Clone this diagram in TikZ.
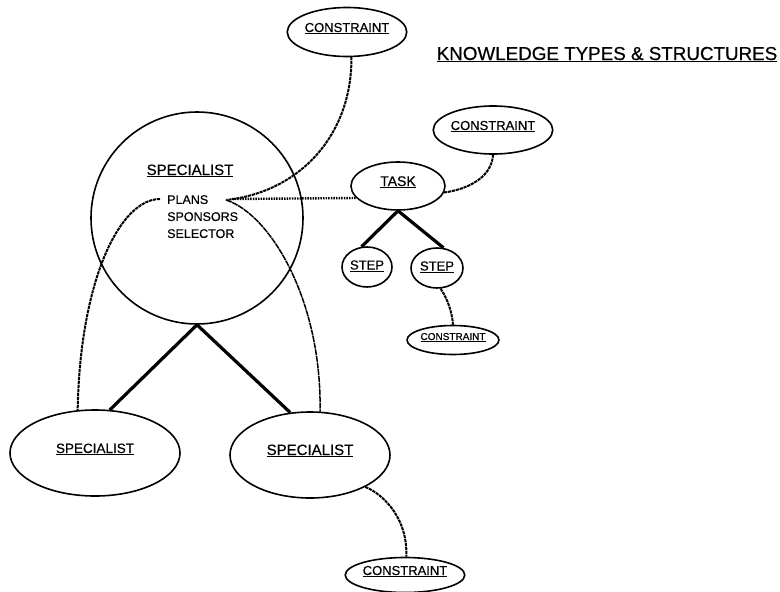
\documentclass[tikz,border=0pt]{standalone}
\usepackage{fontspec}
\setmainfont{Liberation Sans}[FakeBold=0.5]
\usetikzlibrary{shapes.geometric}
\newcommand\ulbl[1]{\underline{\smash{#1}}}
\newcommand\fs[1]{\fontsize{#1}{#1}\selectfont}
\begin{document}
\begin{tikzpicture}[x=1pt,y=-1pt,
  oval/.style={draw, ellipse, line width=1.6pt, inner sep=0pt, text depth=0pt},
  tree/.style={line width=3.2pt},
  link/.style={line width=2pt, dash pattern=on 3.2pt off 0.8pt},
  finelink/.style={line width=1.5pt, dash pattern=on 6pt off 0.7pt},
  dots/.style={line width=2.4pt, dash pattern=on 1.5pt off 1.1pt},
  tag/.style={inner sep=0pt, text depth=0pt}
]
\useasboundingbox (0,0) rectangle (780,592);

% title
\node[tag, font=\fs{18.8}] (title) at (607,60) {\ulbl{KNOWLEDGE TYPES \& STRUCTURES}};

% the large specialist frame with its contents
\node[draw, circle, line width=1.6pt, minimum size=212, inner sep=0pt] (big) at (197,218) {};
\node[tag, font=\fs{15}] (bigname) at (190,175) {\ulbl{SPECIALIST}};
\node[tag, font=\fs{12.5}, anchor=north west, align=left] (parts) at (167,195)
  {PLANS\\[4.5pt]SPONSORS\\[4.5pt]SELECTOR};
\coordinate (plansR) at (226,200);
\coordinate (plansL) at (160,199);
\coordinate (dotsL) at (232,199);

% constraints
\node[oval, minimum width=110, minimum height=49, font=\fs{13}] (c1) at (347,32) {\ulbl{CONSTRAINT}};
\node[oval, minimum width=102, minimum height=48, font=\fs{13}] (c2) at (493,130) {\ulbl{CONSTRAINT}};
\node[oval, minimum width=82, minimum height=29, font=\fs{10}] (c3) at (453,340) {\ulbl{CONSTRAINT}};
\node[oval, minimum width=112, minimum height=35, font=\fs{13}] (c4) at (405,575) {\ulbl{CONSTRAINT}};

% task and steps
\node[oval, minimum width=94, minimum height=48, font=\fs{14}] (task) at (398,186) {\ulbl{TASK}};
\node[oval, minimum width=50, minimum height=40, font=\fs{13}] (st1) at (367,267) {\raisebox{-2.5pt}{\ulbl{STEP}}};
\node[oval, minimum width=52, minimum height=40, font=\fs{13}] (st2) at (437,268) {\raisebox{-2.5pt}{\ulbl{STEP}}};

% sub-specialists
\node[oval, minimum width=170, minimum height=86, font=\fs{13.5}] (s1) at (95,453) {\ulbl{SPECIALIST}};
\node[oval, minimum width=160, minimum height=86, font=\fs{15}] (s2) at (310,455) {\ulbl{SPECIALIST}};

% structural links
\draw[tree] (big.south) -- (s1.71);
\draw[tree] (big.south) -- (s2.115);
\draw[tree] (task.south) -- (st1.105);
\draw[tree] (task.south) -- (st2.72);

% references
\draw[dots] (dotsL) -- (task.196);
\draw[link] (c1.-80) .. controls (352,135) and (300,192) .. (plansR);
\draw[link] (plansL) .. controls (120,199) and (80,280) .. (s1.112);
\draw[finelink] (plansR) .. controls (270,214) and (322,300) .. (s2.77);
\draw[link] (task.-8) .. controls (470,189) and (492,176) .. (c2.south);
\draw[link] (st2.-80) .. controls (448,300) and (452,312) .. (c3.north);
\draw[link] (s2.-30) .. controls (385,495) and (408,520) .. (c4.86);
\end{tikzpicture}
\end{document}
